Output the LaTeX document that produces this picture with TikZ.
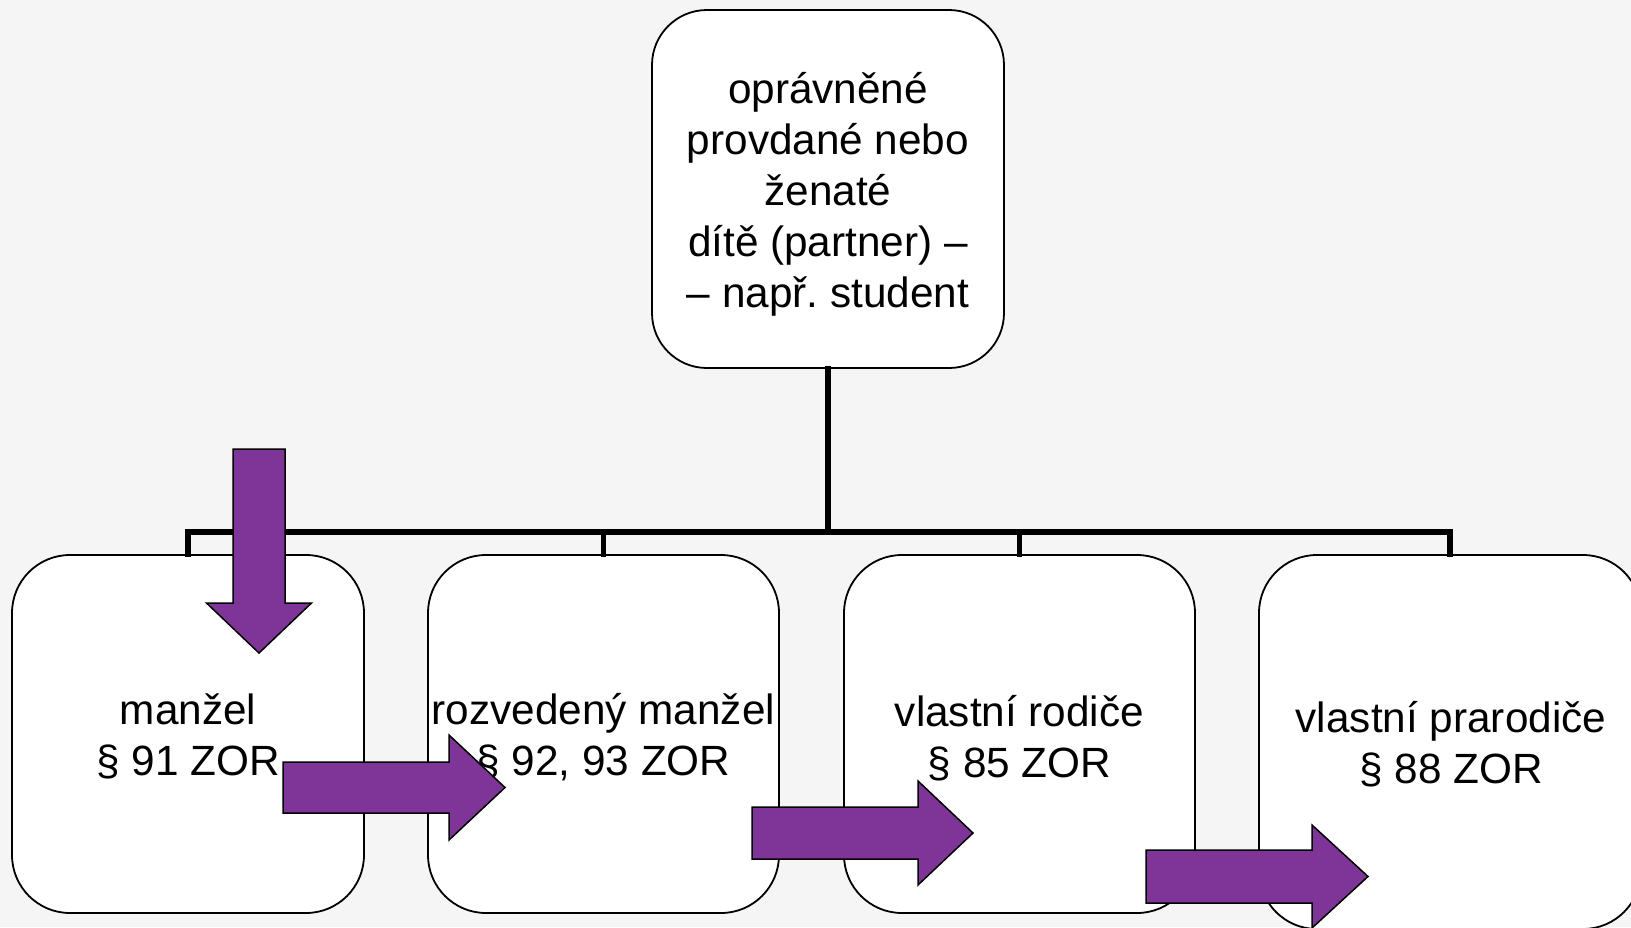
\documentclass[tikz,border=0pt]{standalone}
\usepackage{fontspec}
\setmainfont{Liberation Sans}
\definecolor{bgcol}{RGB}{245,245,245}
\definecolor{arrowpurple}{RGB}{127,53,151}
\tikzset{
  box/.style={draw=black, line width=1.8pt, fill=white, rounded corners=58pt, inner sep=0pt},
  lbl/.style={inner sep=0pt, align=center, anchor=base, font=\fontsize{42.3pt}{51pt}\selectfont\frenchspacing},
  conn/.style={draw=black, line width=5.5pt, line join=miter, line cap=rect},
  barrow/.style={fill=arrowpurple, draw=black, line width=1.5pt, line join=miter}
}
\begin{document}
\begin{tikzpicture}[x=1pt, y=-1pt]
\useasboundingbox (0,0) rectangle (1631,927);
\clip (0,0) rectangle (1631,927);
\fill[bgcol] (0,0) rectangle (1631,927);

% boxes
\node[box, rounded corners=55pt, minimum width=352pt, minimum height=358pt] (top) at (828,189) {};
\node[box, minimum width=352pt, minimum height=358pt] (b1) at (188,734) {};
\node[box, minimum width=351pt, minimum height=358pt] (b2) at (603.5,734) {};
\node[box, minimum width=351pt, minimum height=358pt] (b3) at (1019.5,734) {};
\node[box, minimum width=382pt, minimum height=374pt] (b4) at (1450,742) {};

% connectors
\coordinate (bus) at (828,532);
\draw[conn] (top.south) -- (top.south |- bus);
\draw[conn] (b1.north) -- (b1.north |- bus) -- (b4.north |- bus) -- (b4.north);
\draw[conn] (b2.north |- bus) -- (b2.north);
\draw[conn] (b3.north |- bus) -- (b3.north);

% texts (base anchor = baseline of the last line)
\node[lbl] (ttop) at (828,307) {oprávněné\\provdané nebo\\ženaté\\dítě (partner) –\\– např. student};
\node[lbl] (t1) at (188,775) {manžel\\§ 91 ZOR};
\node[lbl] (t2) at (603.5,775) {rozvedený manžel\\§ 92, 93 ZOR};
\node[lbl] (t3) at (1019.5,777) {vlastní rodiče\\§ 85 ZOR};
\node[lbl] (t4) at (1451,783) {vlastní prarodiče\\§ 88 ZOR};

% block arrows
\draw[barrow] (233,449) -- (285,449) -- (285,603) -- (311.5,603) -- (259,653) -- (206.5,603) -- (233,603) -- cycle;
\draw[barrow] (283,762) -- (449,762) -- (449,735) -- (505,787.5) -- (449,840) -- (449,813) -- (283,813) -- cycle;
\draw[barrow] (752,807) -- (918,807) -- (918,781) -- (973,833) -- (918,885) -- (918,859) -- (752,859) -- cycle;
\draw[barrow] (1146,850) -- (1312,850) -- (1312,825) -- (1368,876.5) -- (1312,928) -- (1312,903) -- (1146,903) -- cycle;
\end{tikzpicture}
\end{document}
